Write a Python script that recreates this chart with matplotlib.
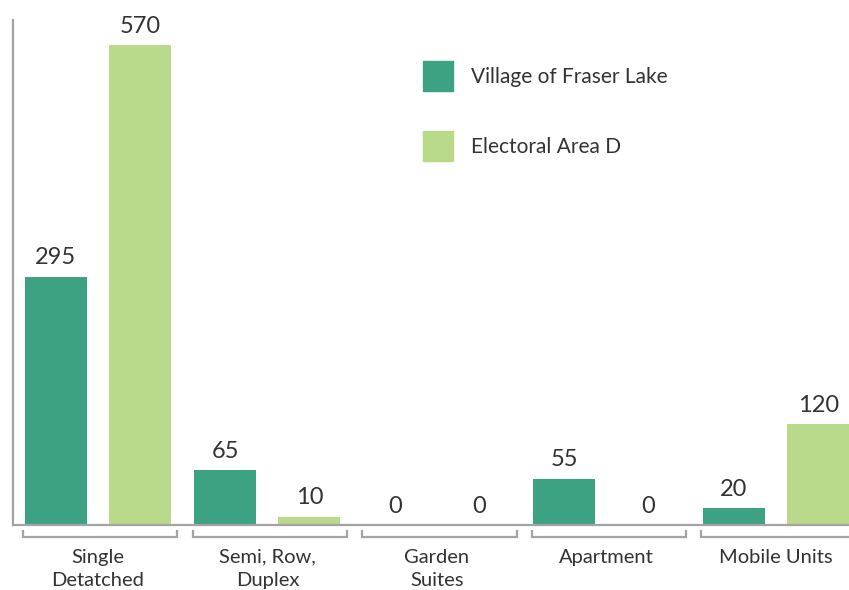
import matplotlib.pyplot as plt
import matplotlib.transforms as mtransforms
from matplotlib.patches import Patch
import numpy as np

plt.rcParams['font.family'] = ['Lato', 'DejaVu Sans']

# dwelling counts by structure type
categories = ["Single\nDetatched", "Semi, Row,\nDuplex", "Garden\nSuites", "Apartment", "Mobile Units"]
fraser_lake = [295, 65, 0, 55, 20]
area_d = [570, 10, 0, 0, 120]
series_names = ["Village of Fraser Lake", "Electoral Area D"]

dark = "#3DA184"
light = "#B9DA8B"
grey = "#A3A3A6"
text_col = "#333333"

fig = plt.figure(figsize=(8.49, 5.90), dpi=100)
ax = fig.add_axes([13 / 849, 65 / 590, 836 / 849, 505 / 590])

x = np.arange(len(categories))
w = 0.366
off = 0.248
b1 = ax.bar(x - off, fraser_lake, w, color=dark)
b2 = ax.bar(x + off, area_d, w, color=light)

for bars, vals in ((b1, fraser_lake), (b2, area_d)):
    for rect, v in zip(bars, vals):
        ax.annotate(f"{v}", (rect.get_x() + rect.get_width() / 2, rect.get_height()),
                    xytext=(0, 6), textcoords="offset points", ha="center", va="bottom",
                    fontsize=17, color=text_col)

ax.set_xlim(-0.5, 4.43)
ax.set_ylim(0, 600)
ax.set_yticks([])
ax.set_xticks(x)
ax.set_xticklabels(categories, fontsize=14.5, color=text_col, linespacing=1.45)
ax.tick_params(axis="x", length=0, pad=17)

for s in ("top", "right"):
    ax.spines[s].set_visible(False)
for s in ("left", "bottom"):
    ax.spines[s].set_color(grey)
    ax.spines[s].set_linewidth(1.6)

# brackets under each category
trans = mtransforms.blended_transform_factory(ax.transData, ax.transAxes)
for xi in x:
    ax.plot([xi - 0.44, xi - 0.44, xi + 0.47, xi + 0.47], [-0.012, -0.024, -0.024, -0.012],
            color=grey, lw=1.6, transform=trans, clip_on=False, solid_joinstyle="miter")

handles = [Patch(color=dark), Patch(color=light)]
fig.legend(handles, series_names, loc="upper left", bbox_to_anchor=(423 / 849, 1 - 61 / 590),
           frameon=False, fontsize=15, handlelength=1.44, handleheight=1.82,
           labelspacing=1.93, handletextpad=0.88, borderpad=0, borderaxespad=0,
           labelcolor=text_col)

fig.savefig("out.png", dpi=100)
